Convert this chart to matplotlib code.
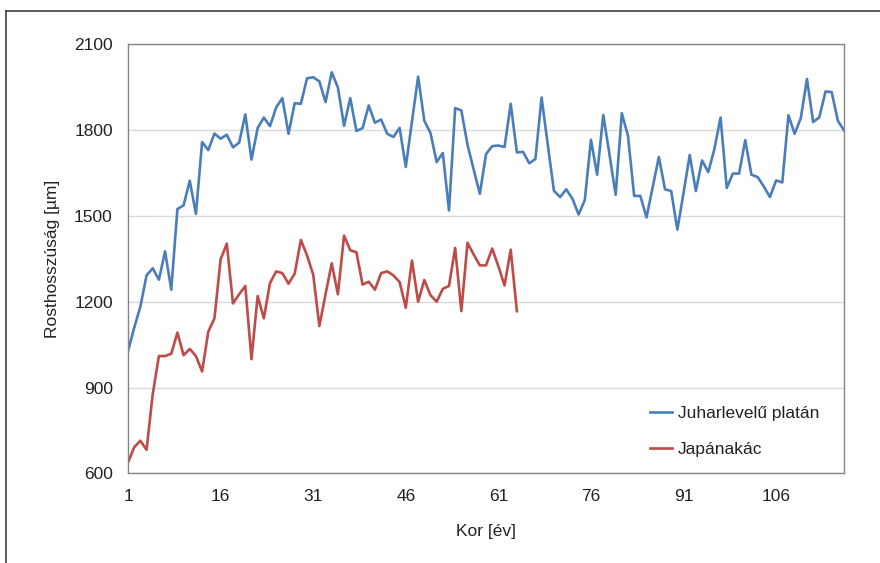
import matplotlib
matplotlib.use("Agg")
import matplotlib.pyplot as plt
from matplotlib.lines import Line2D

# fibre length by tree age
platan_um = [
    1028, 1109, 1183, 1292, 1317, 1277, 1376, 1242, 1524, 1537,
    1623, 1507, 1758, 1730, 1788, 1770, 1784, 1740, 1756, 1855,
    1697, 1807, 1844, 1814, 1879, 1912, 1787, 1894, 1892, 1981,
    1985, 1970, 1898, 2002, 1949, 1815, 1912, 1797, 1807, 1886,
    1826, 1837, 1787, 1776, 1808, 1671, 1830, 1987, 1833, 1790,
    1688, 1720, 1519, 1877, 1869, 1749, 1662, 1577, 1716, 1744,
    1746, 1741, 1892, 1722, 1724, 1684, 1699, 1914, 1750, 1588,
    1566, 1593, 1560, 1505, 1555, 1766, 1644, 1853, 1715, 1574,
    1859, 1780, 1570, 1570, 1495, 1600, 1706, 1593, 1587, 1452,
    1580, 1713, 1587, 1694, 1653, 1734, 1844, 1598, 1648, 1648,
    1765, 1644, 1636, 1603, 1566, 1624, 1617, 1852, 1787, 1842,
    1979, 1828, 1845, 1935, 1933, 1833, 1799,
]
akac_um = [
    638, 691, 714, 682, 877, 1010, 1010, 1018, 1092, 1013,
    1035, 1010, 956, 1095, 1142, 1348, 1403, 1194, 1226, 1255,
    999, 1220, 1142, 1265, 1306, 1300, 1263, 1298, 1416, 1362,
    1295, 1115, 1226, 1334, 1226, 1431, 1380, 1373, 1260, 1270,
    1242, 1300, 1306, 1292, 1269, 1179, 1344, 1200, 1276, 1223,
    1200, 1245, 1255, 1388, 1167, 1406, 1365, 1327, 1327, 1386,
    1324, 1257, 1382, 1167,
]
series_names = ["Juharlevelű platán", "Japánakác"]
x_ticks = list(range(1, 118, 15))
y_ticks = [600, 900, 1200, 1500, 1800, 2100]

plt.rcParams["font.family"] = ["Liberation Sans", "DejaVu Sans"]
plt.rcParams["font.size"] = 12.5

fig = plt.figure(figsize=(8.8, 5.63), dpi=100)
ax = fig.add_axes([0.1455, 0.1593, 0.8136, 0.762])

age_p = range(1, len(platan_um) + 1)
age_a = range(1, len(akac_um) + 1)
ax.plot(age_p, platan_um, color="#4a7ebb", lw=1.9, label=series_names[0])
ax.plot(age_a, akac_um, color="#be4b48", lw=1.9, label=series_names[1])

ax.set_xlim(1, len(platan_um))
ax.set_ylim(600, 2100)
ax.set_xticks(x_ticks)
ax.set_yticks(y_ticks)
ax.tick_params(length=0, pad=11, colors="#222222")

ax.grid(axis="y", color="#d9d9d9", lw=1)
ax.set_axisbelow(True)
for s in ax.spines.values():
    s.set_color("#858585")
    s.set_linewidth(1)

ax.set_ylabel("Rosthosszúság [µm]", va="center", color="#222222")
ax.yaxis.set_label_coords(-0.105, 0.5)
ax.set_xlabel("Kor [év]", va="center", color="#222222")
ax.xaxis.set_label_coords(0.5, -0.135)

ax.legend(loc="center left", bbox_to_anchor=(0.719, 0.0974), frameon=False,
          borderaxespad=0, handlelength=1.3, handletextpad=0.3,
          labelspacing=1.23, labelcolor="#222222")

# outer frame of the chart area (top and left edges are visible)
fig.add_artist(Line2D([6 / 880, 1], [1 - 11 / 563] * 2, color="#404040", lw=1.2))
fig.add_artist(Line2D([6 / 880] * 2, [0, 1 - 11 / 563], color="#404040", lw=1.2))

fig.savefig("out.png", dpi=100)
